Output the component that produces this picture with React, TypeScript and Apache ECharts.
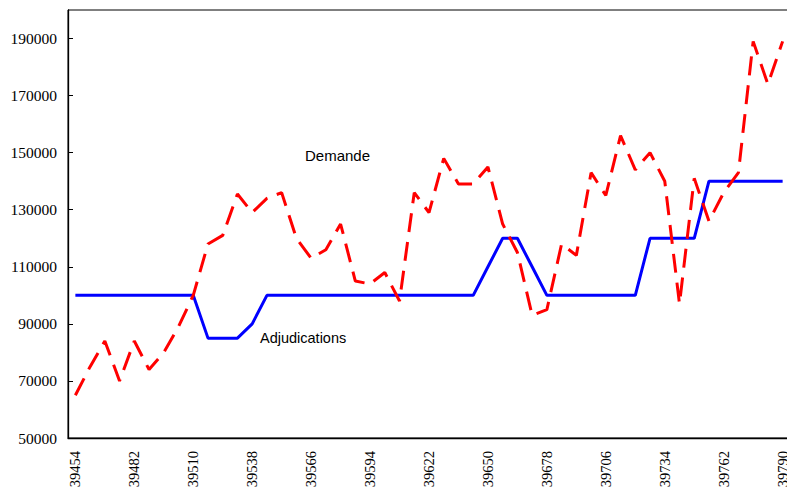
import React, { useEffect, useRef } from "react";
import * as echarts from "echarts";

const categories: string[] = [
  "39454", "39461", "39468", "39475", "39482", "39489", "39496", "39503",
  "39510", "39517", "39524", "39531", "39538", "39545", "39552", "39559",
  "39566", "39573", "39580", "39587", "39594", "39601", "39608", "39615",
  "39622", "39629", "39636", "39643", "39650", "39657", "39664", "39671",
  "39678", "39685", "39692", "39699", "39706", "39713", "39720", "39727",
  "39734", "39741", "39748", "39755", "39762", "39769", "39776", "39783",
  "39790",
];

const demande: number[] = [
  65000, 75000, 84000, 70000, 84000, 74000, 80000, 89000, 100000, 118000,
  121000, 135500, 129000, 134000, 136000, 120000, 113000, 116000, 125000, 105000,
  104000, 108000, 98000, 136000, 129000, 148000, 139000, 139000, 145000, 125000,
  115000, 93000, 95000, 118000, 114000, 143000, 135000, 156000, 144000, 150000,
  140000, 97000, 141000, 126000, 136000, 143000, 189000, 174000, 189000,
];

const adjudications: number[] = [
  100000, 100000, 100000, 100000, 100000, 100000, 100000, 100000, 100000,
  85000, 85000, 85000, 90000,
  100000, 100000, 100000, 100000, 100000, 100000, 100000, 100000, 100000,
  100000, 100000, 100000, 100000, 100000, 100000,
  110000, 120000, 120000, 110000,
  100000, 100000, 100000, 100000, 100000, 100000, 100000,
  120000, 120000, 120000, 120000,
  140000, 140000, 140000, 140000, 140000, 140000,
];

const yTicks: number[] = [50000, 70000, 90000, 110000, 130000, 150000, 170000, 190000];

export default function App() {
  const ref = useRef<HTMLDivElement>(null);
  useEffect(() => {
    if (!ref.current) return;
    const chart = echarts.init(ref.current, null, { renderer: "svg" });
    const serif = "Liberation Serif";
    const sans = "Liberation Sans";
    chart.setOption({
      animation: false,
      backgroundColor: "#ffffff",
      textStyle: { fontFamily: serif },
      grid: {
        left: 68,
        top: 10,
        width: 722,
        height: 428,
        outerBoundsMode: "none",
        containLabel: false,
        show: true,
        borderColor: "#000000",
        borderWidth: 1,
        backgroundColor: "transparent",
      },
      xAxis: {
        type: "category",
        data: categories,
        boundaryGap: true,
        axisLine: { lineStyle: { color: "#000000", width: 1.3 } },
        axisTick: { inside: true, length: 5, interval: 0, lineStyle: { color: "#000000" } },
        axisLabel: {
          interval: 3,
          rotate: 90,
          margin: 13,
          color: "#000000",
          fontFamily: serif,
          fontSize: 14.5,
        },
        splitLine: { show: false },
      },
      yAxis: {
        type: "value",
        min: 50000,
        max: 200000,
        axisLine: { show: true, lineStyle: { color: "#000000", width: 1.3 } },
        axisTick: {
          show: true,
          inside: true,
          length: 5,
          customValues: yTicks,
          lineStyle: { color: "#000000" },
        },
        axisLabel: {
          customValues: yTicks,
          formatter: (v: number) => String(v),
          margin: 11,
          color: "#000000",
          fontFamily: serif,
          fontSize: 15.5,
        },
        splitLine: { show: false },
      },
      series: [
        {
          name: "Adjudications",
          type: "line",
          data: adjudications,
          symbol: "none",
          lineStyle: { color: "#0000ff", width: 3 },
          z: 2,
        },
        {
          name: "Demande",
          type: "line",
          data: demande,
          symbol: "none",
          lineStyle: { color: "#ff0000", width: 3, type: [19, 10] },
          z: 3,
        },
      ],
      graphic: [
        {
          type: "text",
          left: 305,
          top: 148,
          style: { text: "Demande", fill: "#000000", fontFamily: sans, fontSize: 15 },
        },
        {
          type: "text",
          left: 260,
          top: 330,
          style: { text: "Adjudications", fill: "#000000", fontFamily: sans, fontSize: 14.5 },
        },
      ],
    });
    return () => chart.dispose();
  }, []);
  return (
    <div
      ref={ref}
      style={{ position: "fixed", left: 0, top: 0, width: 787, height: 491 }}
    />
  );
}
